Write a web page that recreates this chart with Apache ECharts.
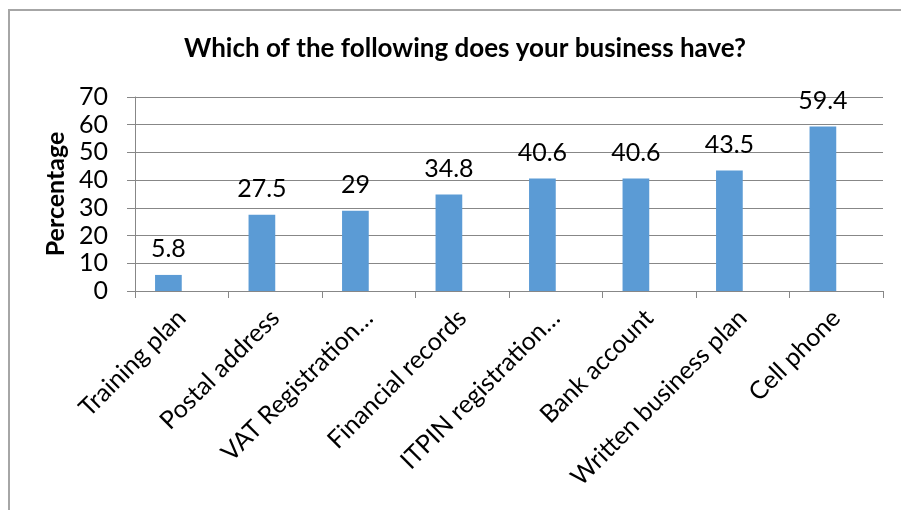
<!DOCTYPE html>
<html>
<head>
<meta charset="utf-8">
<style>
  html, body { margin: 0; padding: 0; background: #ffffff; }
  #chart { width: 901px; height: 510px; }
</style>
<script src="https://cdn.jsdelivr.net/npm/echarts@6/dist/echarts.min.js"></script>
</head>
<body>
<div id="chart"></div>
<script>
// Survey: which of the following does your business have? (percent of respondents)
const categories = [
  'Training plan',
  'Postal address',
  'VAT Registration…',
  'Financial records',
  'ITPIN registration…',
  'Bank account',
  'Written business plan',
  'Cell phone'
];
const percentages = [5.8, 27.5, 29, 34.8, 40.6, 40.6, 43.5, 59.4];
// Second, empty slot per category (keeps bars left of each category centre, as in the source workbook)
const spareSeries = [null, null, null, null, null, null, null, null];

const yTicks = { min: 0, max: 70, interval: 10 };
const titleText = 'Which of the following does your business have?';
const yAxisTitle = 'Percentage';

const FONT = 'Lato';
const GRID_GRAY = '#878787';

const chart = echarts.init(document.getElementById('chart'), null, { renderer: 'canvas' });

chart.setOption({
  backgroundColor: '#ffffff',
  animation: false,
  textStyle: { fontFamily: FONT },
  title: {
    text: titleText,
    left: 460,
    top: 31,
    textAlign: 'center',
    textStyle: { fontFamily: FONT, fontWeight: 'bold', fontSize: 26, color: '#000000' }
  },
  graphic: [{
    type: 'rect',
    shape: { x: 9, y: 10, width: 1000, height: 1000 },
    style: { fill: 'none', stroke: '#a6a6a6', lineWidth: 2 },
    silent: true
  }],
  grid: { left: 135, right: 18, top: 97, bottom: 219, containLabel: false },
  xAxis: {
    type: 'category',
    data: categories,
    boundaryGap: true,
    axisLine: { show: true, lineStyle: { color: GRID_GRAY, width: 1 } },
    axisTick: { show: true, length: 7, lineStyle: { color: GRID_GRAY } },
    axisLabel: {
      rotate: 45,
      interval: 0,
      margin: 23,
      fontFamily: FONT,
      fontSize: 25,
      color: '#000000'
    }
  },
  yAxis: {
    type: 'value',
    min: yTicks.min,
    max: yTicks.max,
    interval: yTicks.interval,
    name: yAxisTitle,
    nameLocation: 'middle',
    nameGap: 60,
    nameRotate: 90,
    nameTextStyle: { fontFamily: FONT, fontWeight: 'bold', fontSize: 25, color: '#000000' },
    axisLine: { show: true, lineStyle: { color: GRID_GRAY, width: 1 } },
    axisTick: { show: true, length: 8, lineStyle: { color: GRID_GRAY } },
    axisLabel: { margin: 27, fontFamily: FONT, fontSize: 25, color: '#000000' },
    splitLine: { show: true, lineStyle: { color: GRID_GRAY, width: 1 } }
  },
  series: [
    {
      type: 'bar',
      data: percentages,
      barWidth: 26.7,
      barGap: '0%',
      itemStyle: { color: '#5b9bd5' },
      label: {
        show: true,
        position: 'top',
        distance: 13,
        fontFamily: FONT,
        fontSize: 25,
        color: '#000000'
      }
    },
    {
      type: 'bar',
      data: spareSeries,
      barWidth: 26.7,
      barGap: '0%',
      itemStyle: { color: '#ed7d31' }
    }
  ]
});
</script>
</body>
</html>
